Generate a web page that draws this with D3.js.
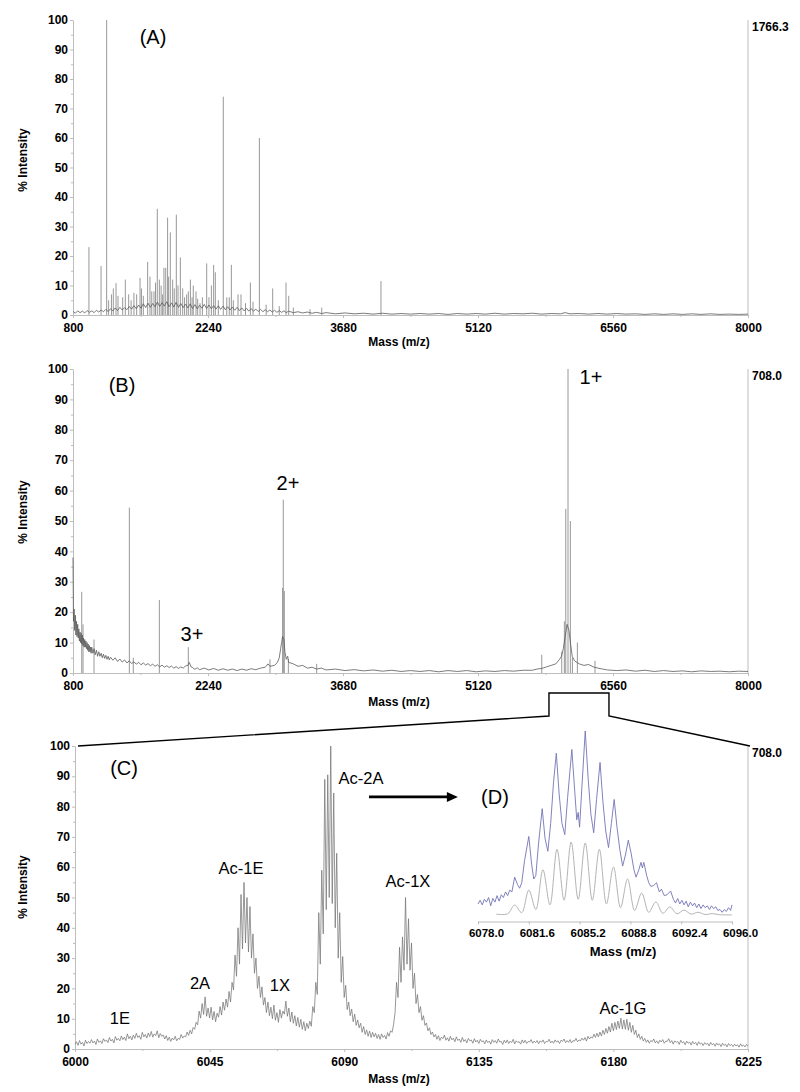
<!DOCTYPE html>
<html><head><meta charset="utf-8">
<script src="https://cdn.jsdelivr.net/npm/d3@7"></script>
<style>
body{margin:0;background:#fff}
svg{display:block}
text{font-family:Arial,"Liberation Sans",sans-serif}
</style>
</head><body>
<svg id="chart" width="800" height="1092"></svg>
<script>
// ---------------- DATA ----------------
const massTicksAB = [800, 2240, 3680, 5120, 6560, 8000];
const massTicksC = [6000, 6045, 6090, 6135, 6180, 6225];
const massTicksD = [6078.0, 6081.6, 6085.2, 6088.8, 6092.4, 6096.0];
const intensityTicks = [0, 10, 20, 30, 40, 50, 60, 70, 80, 90, 100];
const basePeakLabels = ["1766.3", "708.0", "708.0"];

// Panel A: baseline trace [m/z, %] and sharp peaks [m/z, %]
const specA_base = [[800,1.2],[825,0.6],[850,1.4],[875,0.8],[900,1.3],[925,0.7],[950,1.5],[975,0.9],[1000,1.4],[1025,0.8],[1050,1.6],[1075,1],[1100,1.7],[1125,1.1],[1150,1.9],[1175,1.2],[1200,2.1],[1225,1.4],[1250,2.4],[1275,1.5],[1300,2.6],[1325,1.7],[1350,2.5],[1375,1.8],[1400,2.9],[1425,2],[1450,3.2],[1475,2.1],[1500,3.4],[1525,2.3],[1550,3.8],[1575,2.5],[1600,4],[1625,2.6],[1650,3.9],[1675,2.8],[1700,4.4],[1725,2.9],[1750,4.2],[1775,3],[1800,4.5],[1825,2.8],[1850,4.1],[1875,2.7],[1900,4.3],[1925,2.6],[1950,3.9],[1975,2.5],[2000,3.7],[2025,2.4],[2050,3.8],[2075,2.2],[2100,3.5],[2125,2.1],[2150,3.3],[2175,2.3],[2200,3.6],[2225,2.2],[2250,3.4],[2275,2.1],[2300,3.2],[2325,2],[2350,3.1],[2375,1.9],[2400,3],[2425,1.8],[2450,2.8],[2475,1.7],[2500,2.7],[2525,1.6],[2550,2.6],[2575,1.5],[2600,2.4],[2625,1.4],[2650,2.3],[2675,1.3],[2700,2.2],[2725,1.3],[2750,2],[2775,1.2],[2800,1.9],[2825,1.1],[2850,1.8],[2875,1.1],[2900,1.7],[2925,1],[2950,1.6],[2975,0.9],[3000,1.5],[3025,0.9],[3050,1.4],[3075,0.8],[3100,1.3],[3150,0.8],[3200,1.1],[3250,0.7],[3300,1],[3350,0.6],[3400,0.9],[3450,0.5],[3500,0.8],[3600,0.4],[3700,0.7],[3800,0.4],[3900,0.6],[4000,0.3],[4100,0.6],[4200,0.3],[4300,0.5],[4400,0.3],[4500,0.5],[4600,0.3],[4700,0.5],[4800,0.2],[4900,0.5],[5000,0.3],[5100,0.5],[5200,0.3],[5300,0.6],[5400,0.3],[5500,0.5],[5600,0.4],[5700,0.6],[5800,0.3],[5900,0.5],[6000,0.4],[6050,0.8],[6100,0.4],[6200,0.5],[6300,0.3],[6400,0.5],[6500,0.3],[6600,0.5],[6700,0.3],[6800,0.4],[6900,0.2],[7000,0.4],[7100,0.2],[7200,0.4],[7300,0.2],[7400,0.4],[7500,0.2],[7600,0.4],[7700,0.2],[7800,0.3],[7900,0.2],[8000,0.3]];
const specA_peaks = [[970,23],[1099,16.6],[1159,100],[1180,5],[1210,7],[1230,9],[1259,10.8],[1280,6.5],[1330,6],[1358,12],[1394,7],[1420,5],[1450,7.5],[1479,7],[1515,12.6],[1530,9],[1550,6.5],[1596,18],[1621,13],[1640,8],[1664,8],[1680,11],[1699,36],[1721,12],[1740,10],[1756,7],[1770,16],[1789,16],[1809,33],[1820,13],[1838,28],[1863,12],[1880,9],[1902,34],[1920,10],[1945,19.5],[1970,9],[1990,6],[2012,7],[2030,8],[2052,12],[2070,6],[2083,10],[2112,8],[2130,5.5],[2155,4],[2180,6],[2226,17.5],[2250,6],[2276,10],[2300,17],[2318,14.5],[2350,5],[2403,74],[2440,6],[2467,6],[2489,17],[2510,5],[2560,7],[2592,7],[2640,4],[2692,11],[2720,4.5],[2788,60],[2860,3.5],[2930,9],[3000,3],[3072,11],[3101,6.5],[3150,2.5],[3328,2],[3453,2.5],[4085,11.5]];

// Panel B
const specB_base = [[800,38],[805,17],[812,21],[818,14],[825,19],[831,12.5],[837,17],[843,12],[850,16],[856,11.5],[862,14.5],[868,10.5],[875,13.5],[881,10],[887,13],[893,9.5],[900,12.5],[906,9],[912,11.5],[918,8.5],[925,11],[931,8.5],[937,10.5],[943,8],[950,10],[956,7.5],[962,9.5],[968,7],[975,9],[981,7],[987,8.5],[993,6.5],[1000,8.5],[1012,6.5],[1025,8],[1037,6],[1050,7.5],[1062,5.5],[1075,7],[1087,5.5],[1100,6.5],[1112,5],[1125,6.2],[1137,4.8],[1150,5.8],[1162,4.5],[1175,5.5],[1187,4.3],[1200,5.2],[1225,4.2],[1250,5],[1275,3.8],[1300,4.6],[1325,3.6],[1350,4.3],[1375,3.3],[1400,4],[1425,3.1],[1450,3.7],[1475,2.9],[1500,3.5],[1525,2.7],[1550,3.3],[1575,2.6],[1600,3.1],[1625,2.4],[1650,2.9],[1675,2.2],[1700,2.7],[1725,2],[1750,2.6],[1775,1.9],[1800,2.4],[1825,1.8],[1850,2.3],[1875,1.6],[1900,2.1],[1925,1.5],[1950,2],[1975,1.6],[2000,2.3],[2025,2.5],[2040,3.5],[2060,2],[2075,1.8],[2100,1.2],[2125,1.7],[2150,1.1],[2200,1.6],[2250,1],[2300,1.5],[2350,0.9],[2400,1.4],[2450,0.9],[2500,1.3],[2550,0.8],[2600,1.3],[2650,0.9],[2700,1.4],[2750,1.1],[2800,1.6],[2850,1.9],[2880,3],[2900,2.2],[2950,2.5],[2980,3.5],[3000,5],[3015,8],[3025,10],[3035,12],[3050,11],[3060,7],[3075,4.5],[3090,5.5],[3100,3.5],[3150,3],[3200,2.2],[3250,2.5],[3300,1.6],[3350,1.9],[3400,1.3],[3450,1.6],[3500,1],[3600,1.3],[3700,0.8],[3800,1.1],[3900,0.7],[4000,1],[4100,0.6],[4200,0.9],[4300,0.5],[4400,0.8],[4500,0.5],[4600,0.8],[4700,0.4],[4800,0.8],[4900,0.5],[5000,0.8],[5100,0.4],[5200,0.7],[5300,0.5],[5400,0.8],[5500,0.6],[5600,0.9],[5700,0.9],[5750,1.3],[5800,1.5],[5850,2],[5900,2.5],[5950,3],[5990,4.5],[6010,5.5],[6030,8],[6050,12],[6070,16],[6090,14],[6110,9],[6125,5.5],[6150,4],[6200,3],[6250,2.5],[6300,2.8],[6350,2],[6400,1.6],[6450,1.3],[6500,1],[6600,0.8],[6700,1],[6800,0.6],[6900,0.9],[7000,0.5],[7100,0.8],[7200,0.5],[7300,0.7],[7400,0.4],[7500,0.7],[7600,0.5],[7700,0.6],[7800,0.4],[7900,0.6],[8000,0.5]];
const specB_peaks = [[893,26.7],[907,16],[1024,11],[1401,54.4],[1443,5],[1721,24],[2030,8.5],[2901,4.5],[3036,28],[3043,57],[3054,27],[3097,4.5],[3399,3],[5800,6],[6013,7],[6041,17],[6056,54],[6080,100],[6105,50],[6127,5],[6180,10],[6368,4]];

// Panel C: intensity sampled every 0.5 m/z from 6000 to 6225
const specC_startMass = 6000;
const specC_stepMass = 0.5;
const specC_values = [
1.5,2.4,1.2,2.8,1.6,2.2,1.0,2.9,1.8,2.5,
1.9,3.1,2.0,2.6,1.5,3.3,2.2,2.7,1.8,3.4,
2.5,3.0,2.1,3.8,2.6,3.2,2.0,4.1,2.9,3.5,
2.7,4.3,3.1,3.9,2.8,5.0,3.4,4.2,3.0,4.6,
3.5,5.2,3.8,4.4,3.2,5.5,4.0,4.8,3.6,5.3,
4.1,5.8,3.9,5.0,4.4,6.0,3.7,5.1,4.2,4.6,
3.3,4.4,2.8,3.9,2.5,3.6,3.0,4.2,2.7,3.5,
3.2,4.8,3.6,4.3,4.0,5.6,4.5,6.2,5.0,7.1,
6.5,8.8,8.0,12.5,10.2,15.0,11.4,17.2,10.8,13.5,
10.2,13.8,9.6,12.4,9.0,11.8,10.5,14.0,11.2,15.5,
12.8,16.5,13.8,19.0,15.5,22.0,19.5,31.0,24.0,40.0,
28.0,51.0,33.0,55.0,35.0,50.0,32.0,47.0,30.0,38.0,
25.0,30.0,20.0,24.0,17.0,20.5,14.5,17.0,12.0,15.5,
11.0,13.8,10.0,14.5,9.5,12.0,8.8,13.0,10.2,12.5,
11.5,15.8,10.8,13.5,9.0,12.2,8.5,11.0,7.6,10.4,
7.2,9.8,6.5,9.0,6.0,8.5,6.8,9.2,7.5,14.0,
12.0,22.0,18.0,45.0,28.0,59.0,38.0,89.0,46.0,90.5,
50.0,100,48.0,84.5,40.0,64.6,30.0,45.0,22.0,30.5,
17.0,21.0,13.0,15.5,11.0,13.2,9.0,11.5,7.8,9.6,
7.0,8.5,5.5,7.4,4.8,6.3,4.2,5.9,3.8,5.5,
4.0,5.2,3.5,4.8,3.2,5.0,3.8,4.5,3.3,5.4,
4.2,6.0,5.5,8.0,12.0,22.0,17.0,33.6,22.0,37.0,
26.0,50.0,28.0,43.0,26.0,35.0,20.0,25.0,15.0,18.0,
12.0,14.0,9.5,11.0,7.8,8.6,6.0,7.0,4.8,5.6,
4.0,4.8,3.2,4.4,2.8,3.9,3.4,4.6,2.9,3.7,
2.6,4.2,3.0,3.6,2.4,4.0,2.8,3.3,2.2,3.8,
2.5,3.1,2.0,3.5,2.7,3.0,1.9,3.4,2.3,2.9,
1.8,3.2,2.4,2.7,1.7,3.0,2.1,2.6,1.6,3.1,
2.2,2.8,1.9,3.3,2.3,2.5,1.5,2.9,2.0,3.0,
1.8,2.6,2.1,3.2,1.7,2.7,2.2,2.4,1.6,3.0,
2.0,2.9,1.8,2.5,2.3,3.1,1.9,2.6,2.1,2.8,
1.7,2.7,2.2,3.0,1.8,2.5,2.4,3.2,2.0,2.6,
1.9,3.0,2.3,2.7,1.8,2.9,2.5,3.3,2.1,2.8,
2.2,3.1,2.0,2.8,2.6,3.5,2.4,3.0,2.7,3.6,
2.9,3.8,2.6,4.2,3.3,4.0,3.6,4.9,3.8,5.2,
4.0,5.6,4.3,6.2,4.8,6.8,5.2,7.4,5.6,8.5,
6.0,8.8,6.4,9.2,6.8,10.2,6.6,9.6,6.5,9.8,
6.2,8.8,5.5,7.8,4.8,6.2,3.8,5.0,3.2,4.2,
2.6,3.5,2.2,3.0,1.9,2.8,2.4,3.3,2.0,2.7,
1.8,2.9,2.3,3.1,1.9,2.6,2.5,3.4,2.1,2.8,
1.6,2.7,2.2,2.5,1.5,2.9,2.0,2.4,1.4,2.6,
1.9,2.3,1.3,2.5,1.7,2.2,1.2,2.4,1.6,2.0,
1.1,2.1,1.5,1.9,1.0,2.2,1.4,1.8,0.9,2.0,
1.3,1.7,0.8,1.9,1.2,1.6,0.7,1.8,1.1,1.5,
0.8,1.6,1.0,1.4,0.6,1.7,0.9,1.3,0.7,1.5,
1.0];

// Panel D (inset): measured (blue) and theoretical (grey) isotope pattern, relative %
const specD_measured = [[6078.0,6.5],[6078.15,8.5],[6078.3,6],[6078.45,9],[6078.6,7.5],[6078.75,10],[6078.9,5.5],[6079.05,9.5],[6079.2,7.5],[6079.35,11],[6079.5,8],[6079.65,11.5],[6079.8,10],[6079.95,13],[6080.1,11],[6080.25,14],[6080.4,13],[6080.6,21],[6080.8,17],[6080.95,15],[6081.1,18],[6081.3,30],[6081.6,43],[6081.8,28],[6081.95,20],[6082.1,22],[6082.3,40],[6082.55,58],[6082.75,42],[6082.95,35],[6083.15,50],[6083.35,72],[6083.55,88],[6083.75,66],[6083.95,50],[6084.15,44],[6084.35,64],[6084.65,90],[6084.85,68],[6085.0,52],[6085.1,56],[6085.2,48],[6085.35,68],[6085.6,100],[6085.8,75],[6086.0,55],[6086.2,45],[6086.4,63],[6086.65,83],[6086.85,62],[6087.05,46],[6087.25,37],[6087.45,50],[6087.65,63],[6087.85,48],[6088.05,36],[6088.25,27],[6088.45,33],[6088.65,41],[6088.85,34],[6089.05,25],[6089.2,21],[6089.4,25],[6089.55,29],[6089.65,26],[6089.75,29],[6089.95,22],[6090.1,18],[6090.25,16],[6090.45,16.5],[6090.65,18],[6090.85,13],[6091.0,14.5],[6091.2,11],[6091.4,11.5],[6091.65,13.5],[6091.85,9],[6092.0,7],[6092.15,9.5],[6092.3,6.5],[6092.45,8.5],[6092.6,6],[6092.75,8],[6092.9,5],[6093.05,7.5],[6093.2,5.5],[6093.35,7],[6093.5,4.5],[6093.65,6.5],[6093.8,4],[6093.95,6],[6094.1,4.5],[6094.25,5.5],[6094.4,3.5],[6094.55,5.5],[6094.7,4],[6094.85,5],[6095.0,3],[6095.15,3.5],[6095.3,2],[6095.45,3.5],[6095.6,2.5],[6095.75,4.5],[6095.9,3],[6096.0,6]];
const specD_theoretical = [[6079.3,1],[6080.1,1.2],[6080.6,5.9],[6081.1,1.8],[6081.6,14],[6082.1,3.5],[6082.6,25],[6083.1,6],[6083.6,36],[6084.1,8.5],[6084.6,40],[6085.1,9],[6085.6,39.5],[6086.1,8.5],[6086.6,36],[6087.1,6.5],[6087.6,26.5],[6088.1,4.5],[6088.6,20],[6089.1,3],[6089.6,12.4],[6090.1,2],[6090.6,7.6],[6091.1,1.5],[6091.6,4.9],[6092.1,1.2],[6092.6,3.2],[6093.1,1],[6093.6,2],[6094.1,0.8],[6094.6,1.3],[6095.1,0.7],[6096.0,0.6]];

// Annotations: [text, m/z, % intensity]
const labelsA = [["(A)", 1653, 94.2]];
const labelsB = [["(B)", 1323, 94.7], ["2+", 3093, 62.5], ["3+", 2069, 12.8], ["1+", 6325, 97.4]];
const labelsC = [["1E", 6015.0, 10.2], ["2A", 6041.8, 21.8], ["Ac-1E", 6055.5, 59.7], ["1X", 6068.5, 21.1], ["Ac-2A", 6095.6, 89.4], ["Ac-1X", 6111.3, 55.4], ["Ac-1G", 6183.2, 13.5]];
const panelLabelsC = [["(C)", 6016.4, 92.7], ["(D)", 6140.4, 83.2]];
const zoomWindowB = [5877, 6517];   // bracket on panel B (m/z)
const arrowC = [6098.3, 6128, 83.2]; // arrow in panel C: from, to (m/z), level (%)

// ---------------- DRAWING ----------------
const svg = d3.select("#chart");
const AXIS_COL = "#bdbdbd";
const TICK_FONT = "12px";

function drawAxes(x, y, xTicks, fmt, yTitleY, xTitleY) {
  const [x0, x1] = x.range();
  const [yb, yt] = y.range();
  const g = svg.append("g");
  const xMinor = [];
  for (let i = 0; i < xTicks.length - 1; i++) xMinor.push((xTicks[i] + xTicks[i+1]) / 2);
  g.append("g").attr("transform", `translate(0,${yb})`)
    .call(d3.axisBottom(x).tickValues(xMinor).tickSize(2).tickFormat(""))
    .call(s => { s.select(".domain").remove(); s.selectAll("line").attr("stroke", AXIS_COL); });
  g.append("g").attr("transform", `translate(${x0},0)`)
    .call(d3.axisLeft(y).tickValues(d3.range(5, 100, 10)).tickSize(2).tickFormat(""))
    .call(s => { s.select(".domain").remove(); s.selectAll("line").attr("stroke", AXIS_COL); });
  const xa = g.append("g").attr("transform", `translate(0,${yb})`)
    .call(d3.axisBottom(x).tickValues(xTicks).tickSize(3).tickPadding(5).tickSizeOuter(0).tickFormat(fmt));
  const ya = g.append("g").attr("transform", `translate(${x0},0)`)
    .call(d3.axisLeft(y).tickValues(intensityTicks).tickSize(3).tickPadding(2).tickSizeOuter(0));
  [xa, ya].forEach(a => {
    a.select(".domain").attr("stroke", AXIS_COL);
    a.selectAll("line").attr("stroke", AXIS_COL);
    a.selectAll("text").attr("fill", "#000").style("font-size", TICK_FONT).style("font-weight", "bold")
      .style("font-family", "Arial, 'Liberation Sans', sans-serif");
  });
  ya.selectAll("text").attr("dy", "0.3em");
  g.append("line").attr("x1", x1).attr("x2", x1).attr("y1", yt).attr("y2", yb).attr("stroke", AXIS_COL);
  g.append("text").attr("transform", `translate(23,${yTitleY}) rotate(-90)`)
    .attr("text-anchor", "middle").attr("dy", "0.35em")
    .style("font-size", "12px").style("font-weight", "bold").text("% Intensity");
  g.append("text").attr("x", 399).attr("y", xTitleY).attr("dy", "0.35em")
    .attr("text-anchor", "middle").style("font-size", "12px").style("font-weight", "bold").text("Mass (m/z)");
}

function drawLabels(x, y, labels, size) {
  svg.append("g").selectAll("text").data(labels).join("text")
    .attr("x", d => x(d[1])).attr("y", d => y(d[2])).attr("dy", "0.35em")
    .attr("text-anchor", "middle").style("font-size", size + "px").attr("fill", "#000")
    .text(d => d[0]);
}

function basePeak(x, y, txt) {
  svg.append("text").attr("x", x.range()[1] + 4).attr("y", y(100) + 7).attr("dy", "0.35em")
    .style("font-size", TICK_FONT).style("font-weight", "bold").text(txt);
}

function stickPanel(x, y, base, peaks) {
  const line = d3.line().x(d => x(d[0])).y(d => y(d[1]));
  svg.append("g").selectAll("line").data(peaks).join("line")
    .attr("x1", d => x(d[0])).attr("x2", d => x(d[0]))
    .attr("y1", y(0)).attr("y2", d => y(d[1]))
    .attr("stroke", "#8c8c8c").attr("stroke-width", 0.9);
  svg.append("path").datum(base).attr("d", line)
    .attr("fill", "none").attr("stroke", "#5a5a5a").attr("stroke-width", 0.8);
}

// ---- Panel A ----
const xA = d3.scaleLinear().domain([800, 8000]).range([73, 748]);
const yA = d3.scaleLinear().domain([0, 100]).range([315, 20]);
drawAxes(xA, yA, massTicksAB, d3.format("d"), 160, 342);
stickPanel(xA, yA, specA_base, specA_peaks);
drawLabels(xA, yA, labelsA, 20);
basePeak(xA, yA, basePeakLabels[0]);

// ---- Panel B ----
const xB = d3.scaleLinear().domain([800, 8000]).range([73, 748]);
const yB = d3.scaleLinear().domain([0, 100]).range([673, 369]);
drawAxes(xB, yB, massTicksAB, d3.format("d"), 512, 702);
stickPanel(xB, yB, specB_base, specB_peaks);
drawLabels(xB, yB, labelsB, 20);
basePeak(xB, yB, basePeakLabels[1]);

// ---- Panel C ----
const xC = d3.scaleLinear().domain([6000, 6225]).range([75, 748]);
const yC = d3.scaleLinear().domain([0, 100]).range([1049, 746]);
drawAxes(xC, yC, massTicksC, d3.format("d"), 887, 1079);
const specC = specC_values.map((v, i) => [specC_startMass + i * specC_stepMass, v]);
svg.append("path").datum(specC)
  .attr("d", d3.line().x(d => xC(d[0])).y(d => yC(d[1])))
  .attr("fill", "none").attr("stroke", "#767676").attr("stroke-width", 0.75);
drawLabels(xC, yC, labelsC, 16.5);
drawLabels(xC, yC, panelLabelsC, 20);
basePeak(xC, yC, basePeakLabels[2]);

// zoom connector from B to C
const bracketBottom = 716, bracketTop = 693;
const conn = [
  [xC(6001), yC(100)],
  [xB(zoomWindowB[0]), bracketBottom],
  [xB(zoomWindowB[0]), bracketTop],
  [xB(zoomWindowB[1]), bracketTop],
  [xB(zoomWindowB[1]), bracketBottom],
  [xC(6225) + 2, yC(100)]
];
svg.append("path").attr("d", d3.line()(conn)).attr("fill", "none")
  .attr("stroke", "#000").attr("stroke-width", 1.4);

// arrow
const ay = yC(arrowC[2]);
svg.append("line").attr("x1", xC(arrowC[0])).attr("x2", xC(arrowC[1]) - 10)
  .attr("y1", ay).attr("y2", ay).attr("stroke", "#000").attr("stroke-width", 2.6);
svg.append("path")
  .attr("d", d3.line()([[xC(arrowC[1]) - 11, ay - 5], [xC(arrowC[1]), ay], [xC(arrowC[1]) - 11, ay + 5]]) + "Z")
  .attr("fill", "#000");

// ---- Panel D (inset) ----
const xD = d3.scaleLinear().domain([6078, 6096]).range([478, 732]);
const yD = d3.scaleLinear().domain([0, 100]).range([916, 731]);
const axisDY = 921.5;
const da = svg.append("g").attr("transform", `translate(0,${axisDY})`)
  .call(d3.axisBottom(xD).tickValues(massTicksD).tickSize(3).tickPadding(4).tickSizeOuter(0).tickFormat(d3.format(".1f")));
da.select(".domain").attr("stroke", AXIS_COL);
da.selectAll("line").attr("stroke", AXIS_COL);
da.selectAll("text").attr("fill", "#000").attr("dx", 8).style("font-size", "11.5px").style("font-weight", "bold");
svg.append("text").attr("x", 623).attr("y", 951).attr("dy", "0.35em").attr("text-anchor", "middle")
  .style("font-size", "13px").style("font-weight", "bold").text("Mass (m/z)");
svg.append("path").datum(specD_theoretical)
  .attr("d", d3.line().x(d => xD(d[0])).y(d => yD(d[1])).curve(d3.curveCatmullRom.alpha(0.5)))
  .attr("fill", "none").attr("stroke", "#b4b4b4").attr("stroke-width", 1);
svg.append("path").datum(specD_measured)
  .attr("d", d3.line().x(d => xD(d[0])).y(d => yD(d[1])))
  .attr("fill", "none").attr("stroke", "#7474b6").attr("stroke-width", 0.9);
</script>
</body></html>
